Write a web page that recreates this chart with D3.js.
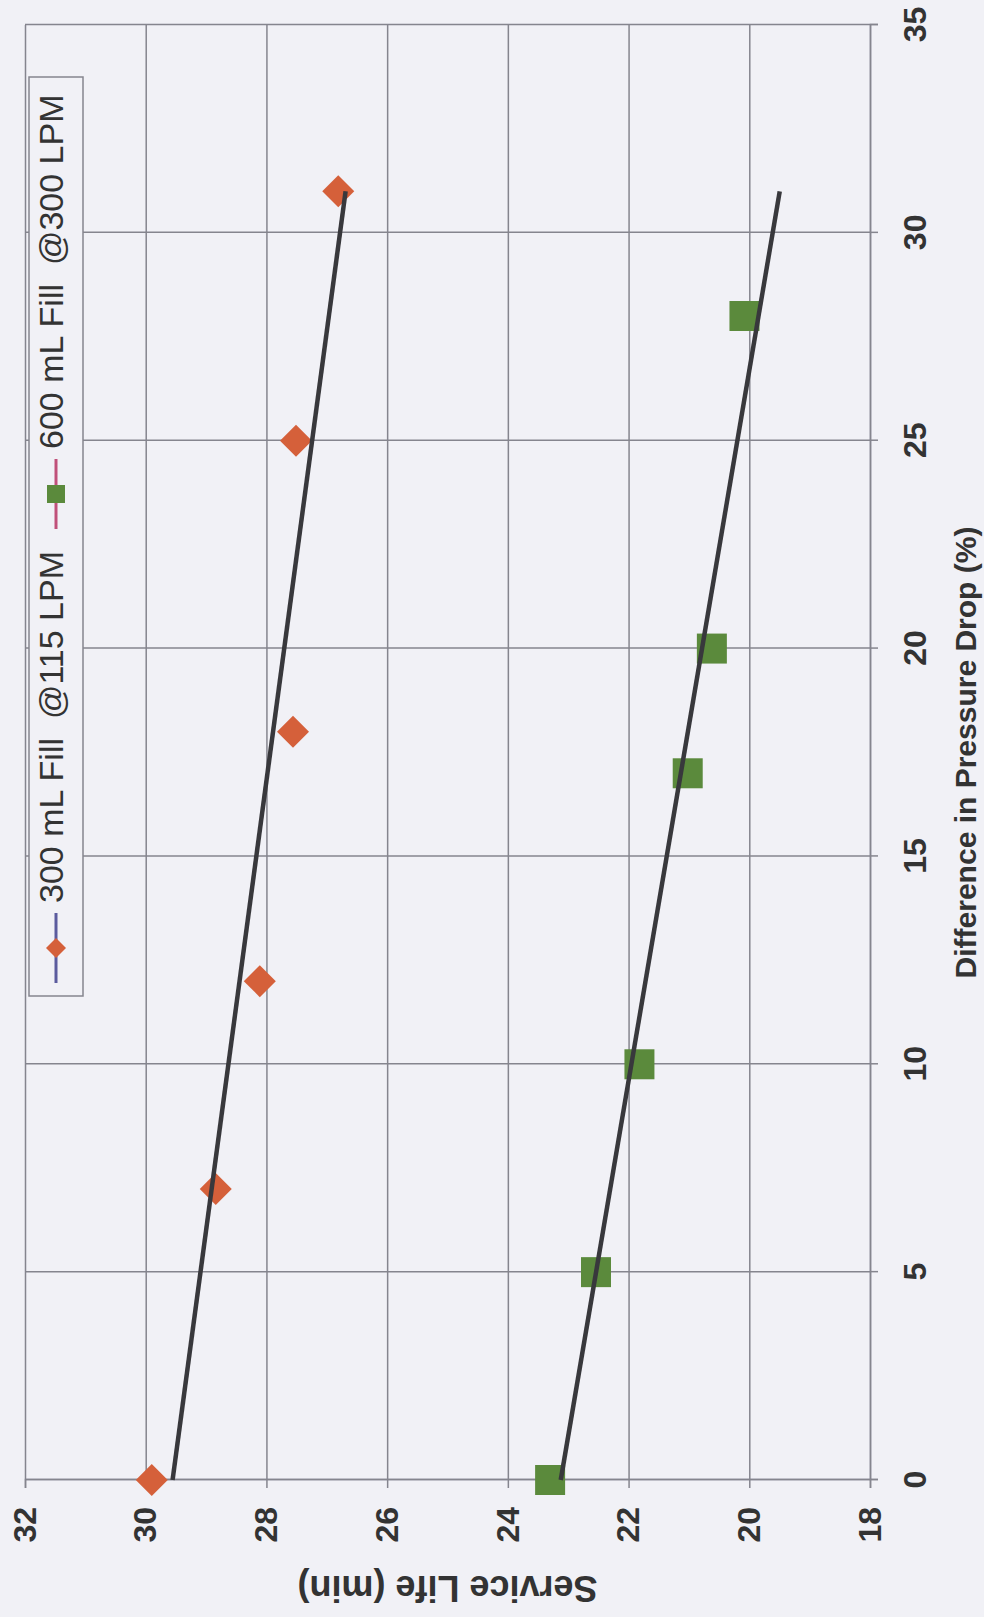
<!DOCTYPE html>
<html>
<head>
<meta charset="utf-8">
<script src="https://cdn.jsdelivr.net/npm/d3@7"></script>
<style>
  html, body { margin: 0; padding: 0; background: #f1f1f6; }
  svg { display: block; }
  text { font-family: "Liberation Sans", Arial, sans-serif; fill: #333; }
</style>
</head>
<body>
<svg id="chart" width="984" height="1617"></svg>
<script>
// Service life vs. difference in pressure drop, two fill/flow conditions
const pressureDrop300 = [0, 7, 12, 18, 25, 31];
const serviceLife300  = [29.9, 28.84, 28.11, 27.56, 27.51, 26.81];
const pressureDrop600 = [0, 5, 10, 17, 20, 28];
const serviceLife600  = [23.3, 22.54, 21.82, 21.02, 20.62, 20.08];
const seriesNames = ["300 mL Fill  @115 LPM", "600 mL Fill  @300 LPM"];
const trendRange = [0, 31];
const xTicks = [0, 5, 10, 15, 20, 25, 30, 35];
const yTicks = [18, 20, 22, 24, 26, 28, 30, 32];
const xTitle = "Difference in Pressure Drop (%)";
const yTitle = "Service Life (min)";

// The chart is laid out landscape (W x H) and turned a quarter turn counter-clockwise onto the page
const PAGE_W = 984, PAGE_H = 1617;
const W = PAGE_H, H = PAGE_W;
const m = { left: 137, right: 25, top: 25, bottom: 114 };

const svg = d3.select("#chart");
svg.append("rect").attr("width", PAGE_W).attr("height", PAGE_H).attr("fill", "#f1f1f6");

const g = svg.append("g").attr("transform", `translate(0,${PAGE_H}) rotate(-90)`);

const x = d3.scaleLinear().domain([0, 35]).range([m.left, W - m.right]);
const y = d3.scaleLinear().domain([18, 32]).range([H - m.bottom, m.top]);

const gridColor = "#85858e";

// gridlines
g.append("g")
  .attr("transform", `translate(0,${m.top})`)
  .call(d3.axisBottom(x).tickValues(xTicks).tickSize(H - m.top - m.bottom).tickFormat(""))
  .call(s => s.select(".domain").remove())
  .call(s => s.selectAll("line").attr("stroke", gridColor).attr("stroke-width", 1.5));
g.append("g")
  .attr("transform", `translate(${m.left},0)`)
  .call(d3.axisRight(y).tickValues(yTicks).tickSize(W - m.left - m.right).tickFormat(""))
  .call(s => s.select(".domain").remove())
  .call(s => s.selectAll("line").attr("stroke", gridColor).attr("stroke-width", 1.5));

// axes
const xAxis = g.append("g")
  .attr("transform", `translate(0,${H - m.bottom})`)
  .call(d3.axisBottom(x).tickValues(xTicks).tickSize(8).tickPadding(25).tickFormat(d3.format("d")));
const yAxis = g.append("g")
  .attr("transform", `translate(${m.left},0)`)
  .call(d3.axisLeft(y).tickValues(yTicks).tickSize(8).tickPadding(19).tickFormat(d3.format("d")));
[xAxis, yAxis].forEach(a => {
  a.select(".domain").attr("stroke", gridColor).attr("stroke-width", 1.5);
  a.selectAll(".tick line").attr("stroke", gridColor).attr("stroke-width", 1.5);
  a.selectAll(".tick text")
    .attr("fill", "#333")
    .style("font-family", '"Liberation Sans", Arial, sans-serif')
    .style("font-size", "32px")
    .style("font-weight", "bold");
});

// axis titles
g.append("text")
  .attr("x", (x(0) + x(35)) / 2).attr("y", 976)
  .attr("text-anchor", "middle")
  .style("font-size", "30px").style("font-weight", "bold")
  .text(xTitle);
g.append("text")
  .attr("transform", `translate(41,${(y(18) + y(32)) / 2}) rotate(-90)`)
  .attr("text-anchor", "middle")
  .style("font-size", "36px").style("font-weight", "bold")
  .text(yTitle);

// least-squares trend line
function fit(xs, ys) {
  const n = xs.length, mx = d3.mean(xs), my = d3.mean(ys);
  let sxy = 0, sxx = 0;
  for (let i = 0; i < n; i++) { sxy += (xs[i] - mx) * (ys[i] - my); sxx += (xs[i] - mx) ** 2; }
  const b = sxy / sxx, a = my - b * mx;
  return v => a + b * v;
}

const series = [
  { name: seriesNames[0], xs: pressureDrop300, ys: serviceLife300, marker: "diamond", color: "#d5603a", legendLine: "#5b5b9e" },
  { name: seriesNames[1], xs: pressureDrop600, ys: serviceLife600, marker: "square", color: "#5b8a3c", legendLine: "#c0507a" }
];

const line = d3.line().x(d => x(d[0])).y(d => y(d[1]));

series.forEach(s => {
  const f = fit(s.xs, s.ys);
  s.pts = s.xs.map((v, i) => [v, s.ys[i]]);
  s.trend = trendRange.map(v => [v, f(v)]);
});

const diamond = r => `M0,${-r}L${r},0L0,${r}L${-r},0Z`;
const square = r => `M${-r},${-r}H${r}V${r}H${-r}Z`;

// markers under the trend lines
series.forEach(s => {
  g.append("g").selectAll("path").data(s.pts).join("path")
    .attr("transform", d => `translate(${x(d[0])},${y(d[1])})`)
    .attr("d", s.marker === "diamond" ? diamond(16) : square(15))
    .attr("fill", s.color);
});
series.forEach(s => {
  g.append("path").datum(s.trend)
    .attr("d", line)
    .attr("fill", "none")
    .attr("stroke", "#38383c")
    .attr("stroke-width", 4.5);
});

// legend
const lg = g.append("g");
lg.append("rect").attr("x", 621).attr("y", 29).attr("width", 919).attr("height", 54)
  .attr("fill", "#f1f1f6").attr("stroke", gridColor).attr("stroke-width", 1.5);
const legendX = [634, 1088];
series.forEach((s, i) => {
  const lx = legendX[i], cy = 56;
  lg.append("line").attr("x1", lx).attr("x2", lx + 70).attr("y1", cy).attr("y2", cy)
    .attr("stroke", s.legendLine).attr("stroke-width", 3);
  lg.append("path").attr("transform", `translate(${lx + 35},${cy})`)
    .attr("d", s.marker === "diamond" ? diamond(10) : square(9))
    .attr("fill", s.color);
  lg.append("text").attr("x", lx + 80).attr("y", 63)
    .style("font-size", "34px").style("white-space", "pre")
    .text(s.name);
});
</script>
</body>
</html>
